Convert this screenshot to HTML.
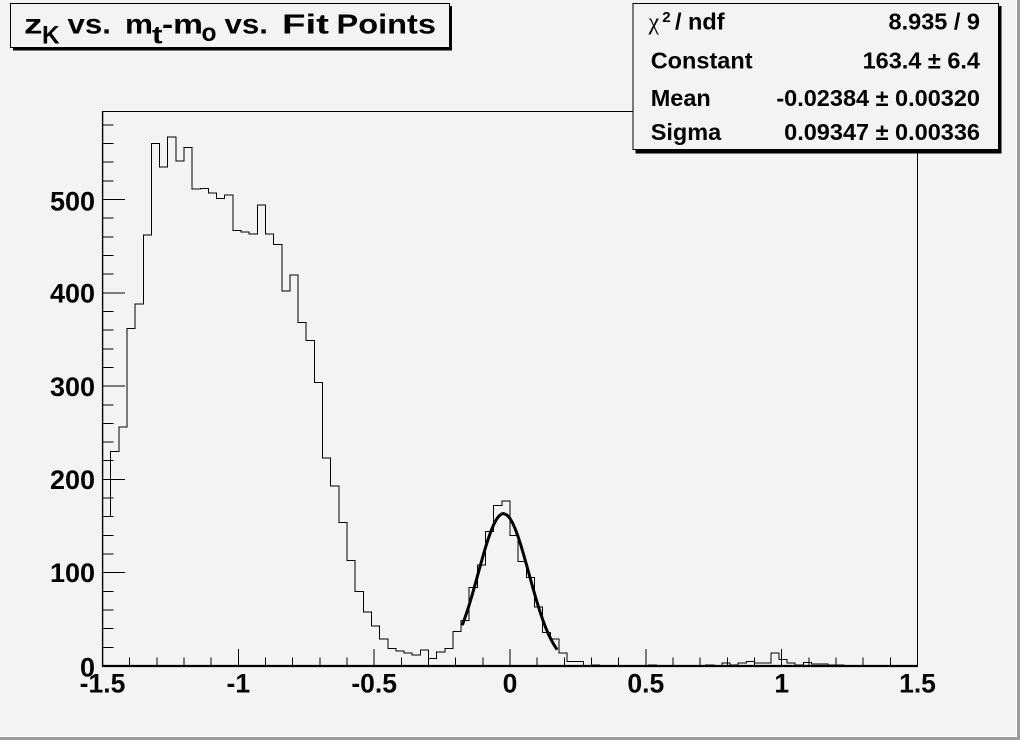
<!DOCTYPE html>
<html>
<head>
<meta charset="utf-8">
<style>
html,body{margin:0;padding:0;background:#f3f3f3;}
svg{display:block;}
</style>
</head>
<body>
<svg width="1020" height="740" viewBox="0 0 1020 740" xmlns="http://www.w3.org/2000/svg" font-family="'Liberation Sans', Arial, sans-serif" font-weight="bold">
  <rect x="0" y="0" width="1020" height="740" fill="#f3f3f3"/>
  <!-- canvas bevel -->
  <rect x="1017" y="0" width="3" height="740" fill="#9c9c9c"/>
  <rect x="0" y="737" width="1020" height="3" fill="#9c9c9c"/>
  <rect x="1016" y="0" width="1" height="737" fill="#ffffff"/>
  <rect x="0" y="736" width="1017" height="1" fill="#ffffff"/>

  <!-- frame -->
  <rect x="102.5" y="111.5" width="815" height="554.5" fill="none" stroke="#000" stroke-width="1" shape-rendering="crispEdges"/>

  <!-- histogram -->
  <g transform="translate(102.5,666) scale(8.15,-0.933)">
    <path fill="none" stroke="#000" stroke-width="1" vector-effect="non-scaling-stroke" shape-rendering="crispEdges"
      d="M0 0 V160 H1 V230 H2 V256 H3 V362 H4 V388 H5 V462 H6 V560 H7 V535 H8 V567 H9 V541
         H10 V556 H11 V511 H12 V512 H13 V507 H14 V501 H15 V505 H16 V467 H17 V465 H18 V463 H19 V494
         H20 V463 H21 V452 H22 V402 H23 V419 H24 V368 H25 V349 H26 V304 H27 V223 H28 V193 H29 V154
         H30 V113 H31 V80 H32 V58 H33 V43 H34 V29 H35 V19 H36 V16 H37 V14 H38 V12 H39 V17
         H40 V8 H41 V15 H42 V19 H43 V37 H44 V49 H45 V84 H46 V108 H47 V144 H48 V172 H49 V177
         H50 V140 H51 V112 H52 V95 H53 V63 H54 V36 H55 V29 H56 V14 H57 V5 H58 V5 H59 V0
         H60 V1 H61 V0 H67 V1 H68 V0 H74 V1 H75 V0 H76 V3 H77 V1 H78 V3 H79 V5
         H80 V3 H81 V3 H82 V14 H83 V7 H84 V3 H85 V1 H86 V4 H87 V2 H88 V2 H89 V1
         H90 V1 H91 V0 H100"/>
  </g>

  <!-- gaussian fit -->
  <polyline fill="none" stroke="#000" stroke-width="3" stroke-linejoin="round" stroke-linecap="round"
    points="462.73,624.04 466.53,613.24 469.25,604.68 471.97,595.58 474.68,586.01 477.40,576.19 480.12,566.31 482.83,556.62 485.55,547.33 488.27,538.71 490.98,531.05 493.70,524.54 496.42,519.40 499.13,515.81 501.85,513.88 503.52,513.55 507.28,515.21 510.00,518.43 512.72,523.21 515.43,529.43 518.15,536.85 520.87,545.26 523.58,554.40 526.30,564.04 529.02,573.90 531.73,583.76 534.45,593.38 537.17,602.62 539.88,611.32 542.60,619.35 545.32,626.66 548.03,633.19 550.75,638.95 553.47,643.96 556.46,648.64"/>

  <!-- axes -->
  <line x1="102" y1="666" x2="918" y2="666" stroke="#000" stroke-width="2.3"/>
  <line x1="102.6" y1="111" x2="102.6" y2="667" stroke="#000" stroke-width="1.4"/>

  <!-- x ticks -->
  <path stroke="#000" stroke-width="1" fill="none" shape-rendering="crispEdges"
    d="M102.5 666v-17 M238.3 666v-17 M374.2 666v-17 M510 666v-17 M645.8 666v-17 M781.7 666v-17 M917.5 666v-17
       M129.7 666v-8.5 M156.8 666v-8.5 M184 666v-8.5 M211.2 666v-8.5
       M265.5 666v-8.5 M292.7 666v-8.5 M319.8 666v-8.5 M347 666v-8.5
       M401.3 666v-8.5 M428.5 666v-8.5 M455.7 666v-8.5 M482.8 666v-8.5
       M537.2 666v-8.5 M564.3 666v-8.5 M591.5 666v-8.5 M618.7 666v-8.5
       M673 666v-8.5 M700.2 666v-8.5 M727.3 666v-8.5 M754.5 666v-8.5
       M808.8 666v-8.5 M836 666v-8.5 M863.2 666v-8.5 M890.3 666v-8.5"/>

  <!-- y ticks -->
  <path stroke="#000" stroke-width="1" fill="none" shape-rendering="crispEdges"
    d="M102.5 572.7h22.5 M102.5 479.4h22.5 M102.5 386.1h22.5 M102.5 292.8h22.5 M102.5 199.5h22.5
       M102.5 647.3h11 M102.5 628.7h11 M102.5 610h11 M102.5 591.4h11
       M102.5 554h11 M102.5 535.4h11 M102.5 516.7h11 M102.5 498.1h11
       M102.5 460.7h11 M102.5 442.1h11 M102.5 423.4h11 M102.5 404.8h11
       M102.5 367.4h11 M102.5 348.8h11 M102.5 330.1h11 M102.5 311.5h11
       M102.5 274.1h11 M102.5 255.5h11 M102.5 236.8h11 M102.5 218.2h11
       M102.5 180.8h11 M102.5 162.2h11 M102.5 143.5h11 M102.5 124.9h11"/>

  <!-- y labels -->
  <g font-size="27" text-anchor="end" fill="#000">
    <text x="95" y="676.5">0</text>
    <text x="95" y="582.2">100</text>
    <text x="95" y="489.2">200</text>
    <text x="95" y="395.9">300</text>
    <text x="95" y="302.6">400</text>
    <text x="95" y="210.5">500</text>
  </g>

  <!-- x labels -->
  <g font-size="26.5" text-anchor="middle" fill="#000">
    <text x="102.5" y="692.7">-1.5</text>
    <text x="238.3" y="692.7">-1</text>
    <text x="374.2" y="692.7">-0.5</text>
    <text x="510" y="692.7">0</text>
    <text x="645.8" y="692.7">0.5</text>
    <text x="781.7" y="692.7">1</text>
    <text x="917.5" y="692.7">1.5</text>
  </g>

  <!-- title box -->
  <rect x="13" y="6" width="439" height="44.5" fill="#000"/>
  <rect x="10.5" y="3.5" width="439" height="44" fill="#f3f3f3" stroke="#000" stroke-width="1"/>
  <g fill="#000">
    <text x="24" y="33.5" font-size="28" textLength="18.5" lengthAdjust="spacingAndGlyphs">z</text>
    <text x="42" y="43.3" font-size="25" textLength="17.6" lengthAdjust="spacingAndGlyphs">K</text>
    <text x="67.5" y="33.5" font-size="28" textLength="43.5" lengthAdjust="spacingAndGlyphs">vs.</text>
    <text x="125" y="33.5" font-size="28" textLength="28" lengthAdjust="spacingAndGlyphs">m</text>
    <text x="152" y="43.3" font-size="25" textLength="10.5" lengthAdjust="spacingAndGlyphs">t</text>
    <text x="162" y="33.5" font-size="28" textLength="41" lengthAdjust="spacingAndGlyphs">-m</text>
    <text x="201.5" y="41" font-size="25" textLength="15" lengthAdjust="spacingAndGlyphs">o</text>
    <text x="224.5" y="33.5" font-size="28" textLength="43.5" lengthAdjust="spacingAndGlyphs">vs.</text>
    <text x="282" y="33.5" font-size="28" textLength="47" lengthAdjust="spacingAndGlyphs">Fit</text>
    <text x="336.5" y="33.5" font-size="28" textLength="99.5" lengthAdjust="spacingAndGlyphs">Points</text>
  </g>

  <!-- stats box -->
  <rect x="635.5" y="6" width="366" height="147.5" fill="#000"/>
  <rect x="633" y="3.5" width="365.5" height="146" fill="#f3f3f3" stroke="#000" stroke-width="1"/>
  <g font-size="23.5" fill="#000">
    <text x="648.5" y="29.3" font-family="'Liberation Serif', serif" font-weight="normal" font-size="24">χ</text>
    <text x="662.3" y="22" font-size="15">2</text>
    <text x="675" y="29.3">/ ndf</text>
    <text x="980" y="29.3" text-anchor="end">8.935 / 9</text>

    <text x="650.7" y="68.3">Constant</text>
    <text x="980" y="68.3" text-anchor="end">163.4 ± 6.4</text>

    <text x="650.7" y="106">Mean</text>
    <text x="980" y="106" text-anchor="end">-0.02384 ± 0.00320</text>

    <text x="650.7" y="140">Sigma</text>
    <text x="980" y="140" text-anchor="end">0.09347 ± 0.00336</text>
  </g>
</svg>
</body>
</html>
